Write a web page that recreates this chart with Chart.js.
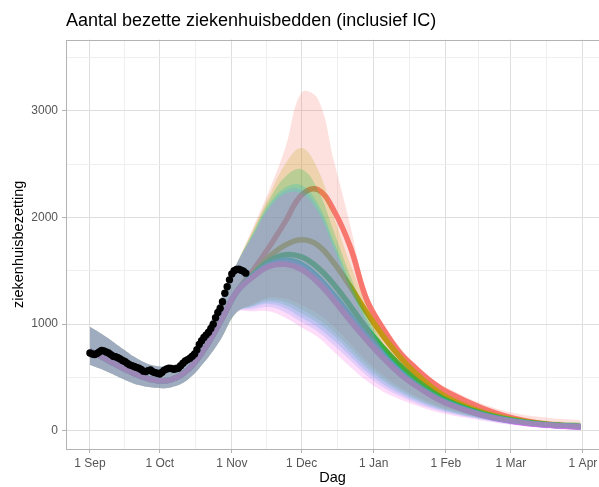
<!DOCTYPE html>
<html>
<head>
<meta charset="utf-8">
<script src="https://cdn.jsdelivr.net/npm/chart.js@4.4.0/dist/chart.umd.min.js"></script>
<style>
  html, body { margin: 0; padding: 0; background: #fff; }
  #wrap { width: 599px; height: 487px; }
</style>
</head>
<body>
<div id="wrap"><canvas id="chart" width="599" height="487"></canvas></div>
<script>
// dagen sinds 1 september
const days = [0, 7, 14, 21, 28, 35, 42, 49, 56, 63, 70, 77, 84, 91, 98, 105, 112, 119, 126, 133, 140, 147, 154, 168, 182, 196, 211];

// gemeten bezetting, één punt per dag vanaf 1 september
const observed = [730, 720, 715, 725, 740, 755, 750, 740, 730, 715, 700, 695, 685, 675, 660, 650, 635, 620, 612, 603,
  595, 587, 575, 560, 556, 565, 572, 555, 546, 540, 534, 550, 570, 580, 587, 585, 578, 582, 587, 610,
  635, 655, 668, 681, 700, 720, 760, 810, 845, 875, 900, 925, 960, 1000, 1060, 1110, 1150, 1210, 1290, 1350,
  1415, 1470, 1500, 1512, 1515, 1505, 1495, 1478];

// gedeelde fit tot begin november (dagen 0..63)
const commonMean = [750, 670, 590, 520, 475, 480, 570, 760, 1020, 1300];
const commonLower = [620, 560, 490, 430, 405, 410, 480, 640, 850, 1110];
const commonUpper = [975, 880, 770, 670, 610, 610, 700, 900, 1220, 1560];

// scenario's vanaf dag 70
const redMean = [1500, 1720, 1960, 2210, 2260, 2060, 1720, 1230, 960, 740, 590, 460, 360, 220, 120, 65, 37];
const redLower = [1190, 1250, 1240, 1180, 1100, 975, 820, 660, 525, 418, 330, 262, 208, 132, 76, 42, 22];
const redUpper = [1900, 2250, 2650, 3170, 3110, 2520, 1920, 1290, 1010, 790, 620, 490, 400, 260, 170, 125, 100];

const oliveMean = [1470, 1630, 1740, 1790, 1740, 1570, 1350, 1110, 890, 700, 540, 410, 310, 180, 105, 62, 42];
const oliveLower = [1180, 1230, 1210, 1140, 1050, 930, 780, 625, 495, 395, 313, 248, 197, 126, 72, 39, 20];
const oliveUpper = [1880, 2200, 2500, 2650, 2450, 2000, 1560, 1180, 880, 670, 520, 405, 320, 210, 135, 95, 80];

const greenMean = [1460, 1590, 1650, 1630, 1530, 1370, 1170, 960, 780, 620, 480, 370, 280, 165, 98, 60, 40];
const greenLower = [1170, 1210, 1180, 1100, 1010, 890, 740, 590, 470, 375, 298, 236, 188, 120, 68, 36, 18];
const greenUpper = [1860, 2160, 2380, 2450, 2260, 1860, 1450, 1100, 820, 630, 490, 385, 305, 200, 128, 90, 76];

const tealMean = [1450, 1560, 1600, 1560, 1440, 1270, 1080, 890, 720, 570, 445, 345, 265, 157, 93, 57, 39];
const tealLower = [1160, 1190, 1150, 1060, 970, 845, 700, 555, 440, 352, 280, 222, 178, 114, 64, 33, 15];
const tealUpper = [1840, 2120, 2280, 2300, 2130, 1770, 1390, 1050, 790, 610, 470, 370, 292, 190, 122, 86, 73];

const blueMean = [1445, 1550, 1580, 1535, 1415, 1245, 1055, 870, 700, 555, 435, 335, 258, 153, 91, 56, 38];
const blueLower = [1140, 1160, 1110, 1020, 930, 800, 660, 520, 410, 330, 262, 208, 168, 108, 60, 30, 13];
const blueUpper = [1830, 2100, 2250, 2260, 2090, 1740, 1360, 1030, 770, 595, 460, 360, 285, 185, 119, 84, 71];

const pinkMean = [1440, 1540, 1560, 1510, 1390, 1220, 1030, 850, 685, 540, 425, 328, 252, 150, 89, 55, 37];
const pinkLower = [1120, 1120, 1060, 970, 880, 740, 600, 470, 370, 300, 240, 190, 155, 100, 55, 25, 9];
const pinkUpper = [1820, 2080, 2220, 2220, 2050, 1700, 1330, 1010, 755, 585, 452, 355, 280, 182, 117, 83, 70];

const xTickDays = [0, 30, 61, 91, 122, 153, 181, 212];
const xTickLabels = ['1 Sep', '1 Oct', '1 Nov', '1 Dec', '1 Jan', '1 Feb', '1 Mar', '1 Apr'];
const yTickValues = [0, 1000, 2000, 3000];

const scenarios = [
  { rgb: '248,118,109', mean: redMean, lower: redLower, upper: redUpper },
  { rgb: '183,159,0', mean: oliveMean, lower: oliveLower, upper: oliveUpper },
  { rgb: '0,186,56', mean: greenMean, lower: greenLower, upper: greenUpper },
  { rgb: '0,191,196', mean: tealMean, lower: tealLower, upper: tealUpper },
  { rgb: '97,156,255', mean: blueMean, lower: blueLower, upper: blueUpper },
  { rgb: '245,100,227', mean: pinkMean, lower: pinkLower, upper: pinkUpper }
];

const toPts = vals => vals.map((v, i) => ({ x: days[i], y: v }));

// minor lijnen halverwege de hoofdlijnen
const xMinor = [];
for (let i = 0; i < xTickDays.length - 1; i++) xMinor.push((xTickDays[i] + xTickDays[i + 1]) / 2);
const xAll = xTickDays.concat(xMinor).sort((a, b) => a - b);
const yAll = [0, 500, 1000, 1500, 2000, 2500, 3000, 3500];

const datasets = [];
datasets.push({
  data: observed.map((v, i) => ({ x: i, y: v })),
  showLine: false, pointRadius: 3.7, pointHoverRadius: 3.7,
  pointBackgroundColor: '#000', pointBorderWidth: 0, order: 0
});
scenarios.forEach((s, k) => {
  const lowIdx = datasets.length;
  datasets.push({
    data: toPts(commonLower.concat(s.lower)), pointRadius: 0, borderWidth: 0,
    borderColor: 'rgba(0,0,0,0)', fill: false, tension: 0.4, order: 6 - k
  });
  datasets.push({
    data: toPts(commonUpper.concat(s.upper)), pointRadius: 0, borderWidth: 0,
    borderColor: 'rgba(0,0,0,0)', backgroundColor: 'rgba(' + s.rgb + ',0.22)',
    fill: lowIdx, tension: 0.4, order: 6 - k
  });
});
scenarios.forEach((s, k) => {
  datasets.push({
    data: toPts(commonMean.concat(s.mean)), pointRadius: 0, borderWidth: 5.5,
    borderColor: 'rgb(' + s.rgb + ')', fill: false, tension: 0.4, order: 20 - k,
    borderCapStyle: 'butt'
  });
});

const panelBorder = {
  id: 'panelBorder',
  afterDatasetsDraw(chart) {
    const { ctx, chartArea: a } = chart;
    ctx.save();
    ctx.strokeStyle = '#b3b3b3';
    ctx.lineWidth = 1;
    ctx.strokeRect(Math.round(a.left) + 0.5, Math.round(a.top) + 0.5,
      Math.round(a.right - a.left) + 10, Math.round(a.bottom - a.top));
    ctx.restore();
  }
};

Chart.defaults.font.family = '"Liberation Sans", Arial, Helvetica, sans-serif';

const isMajorX = v => xTickDays.indexOf(v) >= 0;
const isMajorY = v => yTickValues.indexOf(v) >= 0;

new Chart(document.getElementById('chart'), {
  type: 'line',
  data: { datasets: datasets },
  plugins: [panelBorder],
  options: {
    responsive: false,
    animation: false,
    devicePixelRatio: 1,
    layout: { padding: 0, autoPadding: false },
    plugins: {
      legend: { display: false },
      tooltip: { enabled: false },
      title: {
        display: true, text: 'Aantal bezette ziekenhuisbedden (inclusief IC)',
        align: 'start', fullSize: false, color: '#000',
        font: { size: 18, weight: 'normal' }, padding: { top: 10, bottom: 8 }
      }
    },
    scales: {
      x: {
        type: 'linear', min: -10.3, max: 218.9,
        afterBuildTicks: s => { s.ticks = xAll.map(v => ({ value: v })); },
        afterFit: s => { s.height = 38; s.paddingLeft = 0; s.paddingRight = 0; },
        ticks: {
          autoSkip: false, maxRotation: 0, padding: 3, color: '#555', font: { size: 12 },
          callback: v => { const i = xTickDays.indexOf(v); return i >= 0 ? xTickLabels[i] : ''; }
        },
        grid: {
          color: c => (c.tick && isMajorX(c.tick.value)) ? '#dedede' : '#efefef',
          lineWidth: 1, tickLength: 4, tickWidth: 1,
          tickColor: c => (c.tick && isMajorX(c.tick.value)) ? '#b3b3b3' : 'rgba(0,0,0,0)'
        },
        border: { display: false },
        title: { display: true, text: 'Dag', color: '#000', font: { size: 14.5 }, padding: { top: 0, bottom: 0 } }
      },
      y: {
        type: 'linear', min: -169, max: 3665,
        afterBuildTicks: s => { s.ticks = yAll.map(v => ({ value: v })); },
        afterFit: s => { s.width = 66; s.paddingTop = 0; s.paddingBottom = 0; },
        ticks: {
          padding: 4, color: '#555', font: { size: 12 },
          callback: v => isMajorY(v) ? String(v) : ''
        },
        grid: {
          color: c => (c.tick && isMajorY(c.tick.value)) ? '#dedede' : '#efefef',
          lineWidth: 1, tickLength: 4, tickWidth: 1,
          tickColor: c => (c.tick && isMajorY(c.tick.value)) ? '#b3b3b3' : 'rgba(0,0,0,0)'
        },
        border: { display: false },
        title: { display: true, text: 'ziekenhuisbezetting', color: '#000', font: { size: 14.5 }, padding: { top: 10, bottom: 0 } }
      }
    }
  }
});
</script>
</body>
</html>
